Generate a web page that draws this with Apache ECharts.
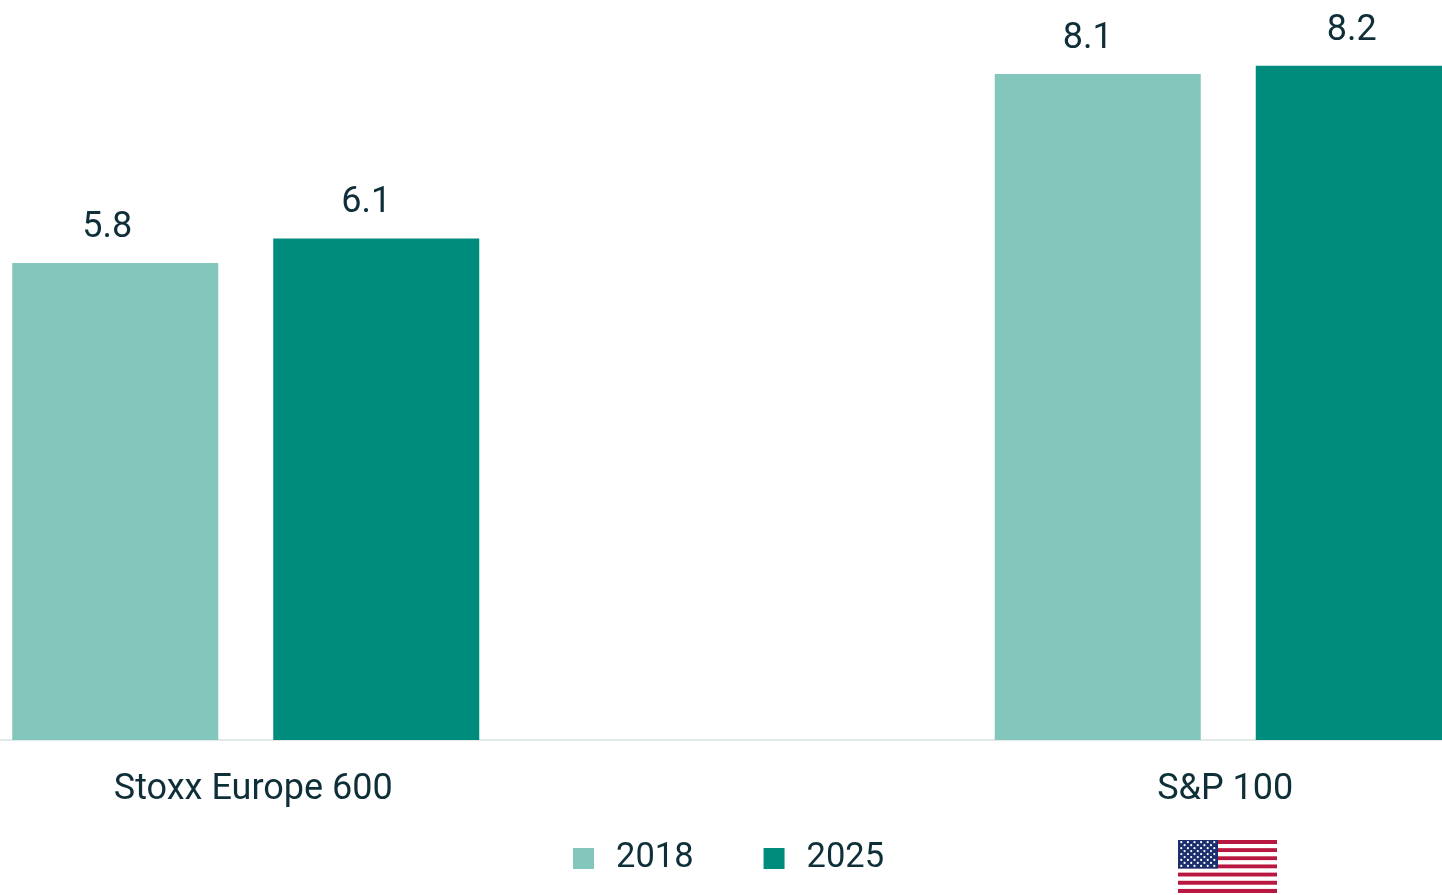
<!DOCTYPE html>
<html>
<head>
<meta charset="utf-8">
<style>html,body{margin:0;padding:0;background:#fff;overflow:hidden}#c{width:1442px;height:895px}</style>
<script src="https://cdn.jsdelivr.net/npm/echarts@6/dist/echarts.min.js"></script>
</head>
<body>
<div id="c"></div>
<script>
const categories = ['Stoxx Europe 600', 'S&P 100'];
const values2018 = [5.8, 8.1];
const values2025 = [6.1, 8.2];
const FONT = 'Roboto, sans-serif';
const INK = '#0f2f38';
const stripes = [...Array(13).keys()].map(i => `<rect y="${i*4}" width="99" height="4" fill="${i%2?'#fff':'#b8173f'}"/>`).join('');
let stars = '';
for (let r = 0; r < 9; r++) for (let c = 0; c < (r%2?5:6); c++)
  stars += `<circle cx="${(r%2?6.6:3.3)+c*6.6}" cy="${2.2+r*2.9}" r="1.1" fill="#fff"/>`;
const flagSvg = `<svg xmlns="http://www.w3.org/2000/svg" width="99" height="52" viewBox="0 0 99 52">${stripes}<rect width="40" height="28" fill="#1b2f6e"/>${stars}</svg>`;
const flagUri = 'data:image/svg+xml;charset=utf-8,' + encodeURIComponent(flagSvg);
const withOffset = (vals, offs) => vals.map((v, i) => ({value: v, label: {offset: offs[i]}}));
const chart = echarts.init(document.getElementById('c'), null, {renderer: 'canvas'});
chart.setOption({
  animation: false,
  backgroundColor: '#fff',
  textStyle: {fontFamily: FONT},
  grid: {left: -245.5, width: 1965, top: 0, height: 740, containLabel: false, outerBoundsMode: 'none'},
  legend: {
    left: 568, top: 836, itemWidth: 21, itemHeight: 21, itemGap: 70,
    icon: 'rect', selectedMode: false,
    textStyle: {fontFamily: FONT, fontSize: 34.5, color: INK, padding: [0, 0, 0, 17]}
  },
  xAxis: {
    type: 'category',
    data: [
      {value: categories[0], textStyle: {padding: [0, 0, 0, 15]}},
      {value: categories[1], textStyle: {padding: [0, 6, 0, 0]}}
    ],
    axisLine: {show: true, lineStyle: {color: '#e3e8e8', width: 2}},
    axisTick: {show: false},
    axisLabel: {fontFamily: FONT, fontSize: 36, color: INK, margin: 32, interval: 0}
  },
  yAxis: {type: 'value', min: 0, max: 9, show: false, splitLine: {show: false}},
  series: [
    {
      name: '2018', type: 'bar', barWidth: 206, barGap: '26.7%',
      data: withOffset(values2018, [[-8, 0], [-10, 0]]),
      itemStyle: {color: '#83c6bc'},
      label: {show: true, position: 'top', distance: 17, fontFamily: FONT, fontSize: 36, color: INK}
    },
    {
      name: '2025', type: 'bar', barWidth: 206,
      data: withOffset(values2025, [[-10, 0], [-7, 0]]),
      itemStyle: {color: '#008c7c'},
      label: {show: true, position: 'top', distance: 17, fontFamily: FONT, fontSize: 36, color: INK}
    }
  ],
  graphic: [{type: 'image', left: 1178, top: 840, style: {image: flagUri, width: 99, height: 53}}]
});
</script>
</body>
</html>
